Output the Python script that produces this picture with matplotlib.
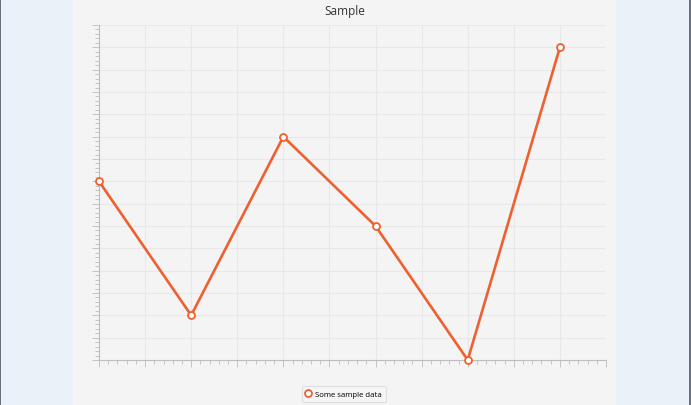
import numpy as np
from matplotlib import pyplot as plt
from matplotlib.patches import Rectangle
from matplotlib.ticker import MultipleLocator

W, H = 691, 406

# data (no labels on the axes in the reference)
x = [0, 1, 2, 3, 4, 5]
y = [8, 2, 10, 6, 0, 14]
series_name = "Some sample data"
title = "Sample"

fig = plt.figure(figsize=(W / 100, H / 100), dpi=100)
fig.patch.set_facecolor("#EAF1F9")

# gray chart panel and window borders, kept behind the axes
fig.patches.append(Rectangle((73 / W, 0), (616 - 73) / W, 1, transform=fig.transFigure,
                             facecolor="#F4F4F4", edgecolor="none", zorder=-10))
fig.patches.append(Rectangle((0, 0), 1.2 / W, 1, transform=fig.transFigure,
                             facecolor="#6A707C", edgecolor="none", zorder=-10))
fig.patches.append(Rectangle((689 / W, 0), 1.5 / W, 1, transform=fig.transFigure,
                             facecolor="#6A707C", edgecolor="none", zorder=-10))

ax = fig.add_axes([99 / W, (H - 361) / H, (606 - 99) / W, (361 - 26) / H])
ax.set_facecolor("#F4F4F4")

ax.plot(x, y, color="#EE6030", lw=1.9, marker="o", ms=5, mfc="white",
        mec="#EE6030", mew=1.3, label=series_name, clip_on=False, zorder=3)

ax.set_xlim(0, 5.5)
ax.set_ylim(0, 15)
ax.xaxis.set_major_locator(MultipleLocator(0.5))
ax.xaxis.set_minor_locator(MultipleLocator(0.1))
ax.yaxis.set_major_locator(MultipleLocator(1))
ax.yaxis.set_minor_locator(MultipleLocator(0.2))
ax.grid(True, which="major", color="#E8E8E8", lw=0.8)
ax.set_axisbelow(True)

ax.tick_params(which="both", labelbottom=False, labelleft=False, color="#C4C4C4",
               direction="out", width=0.7)
ax.tick_params(which="major", length=5)
ax.tick_params(which="minor", length=3)

for side in ["top", "right"]:
    ax.spines[side].set_visible(False)
for side in ["left", "bottom"]:
    ax.spines[side].set_color("#BDBDBD")
    ax.spines[side].set_linewidth(0.8)

fig.text(345 / W, 1 - 12 / H, title, ha="center", va="center", fontsize=8.5,
         color="#333333", family="Open Sans")

leg = fig.legend(loc="center", bbox_to_anchor=(344 / W, 1 - 395 / H),
                 frameon=True, fancybox=True, handlelength=0.6, handletextpad=0.6,
                 borderpad=0.5, prop={"family": "Open Sans", "size": 5.6})
leg.get_frame().set_edgecolor("#DADADA")
leg.get_frame().set_facecolor("#F6F6F6")
leg.get_frame().set_linewidth(0.8)
for h in leg.legend_handles:
    h.set_linestyle("none")

fig.savefig("out.png", dpi=100, facecolor=fig.get_facecolor())
